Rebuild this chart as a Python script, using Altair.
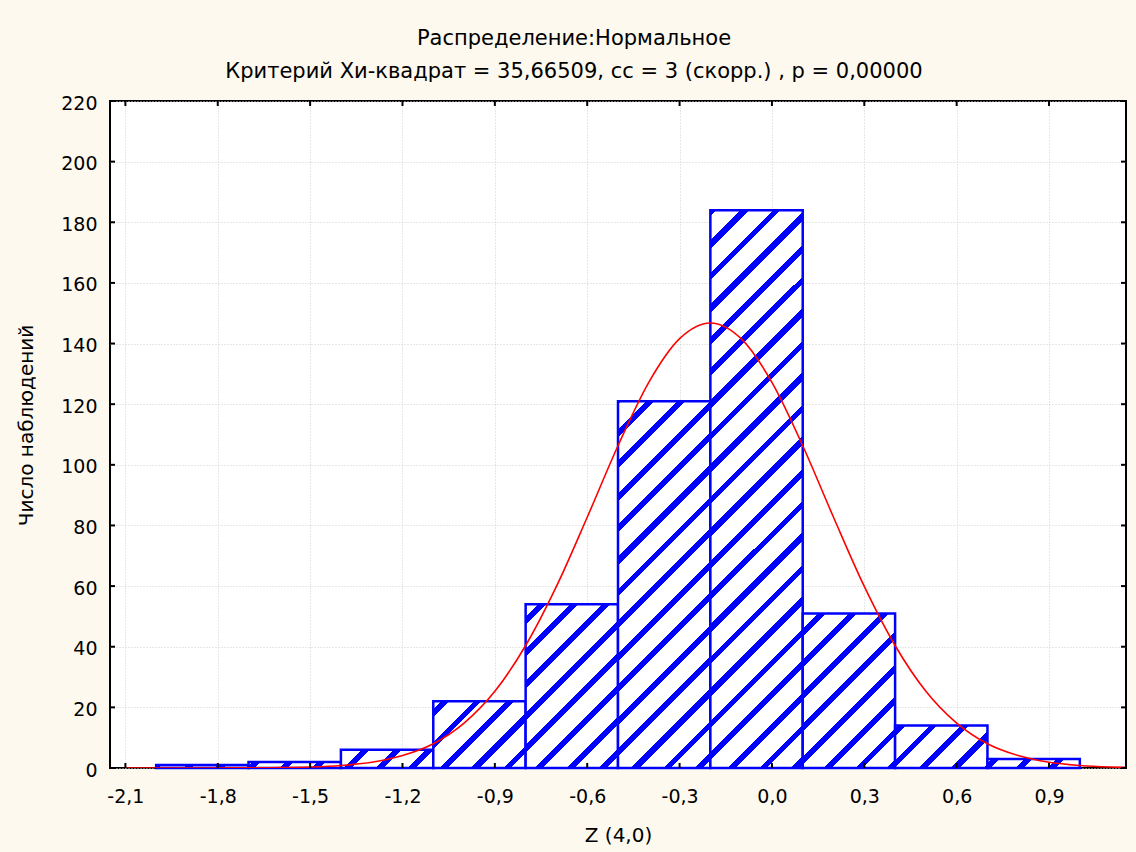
import math

import altair as alt
import pandas as pd

# Histogram of Z (4,0): bin edges and observed counts
bin_lo = [-2.0, -1.7, -1.4, -1.1, -0.8, -0.5, -0.2, 0.1, 0.4, 0.7]
bin_hi = [-1.7, -1.4, -1.1, -0.8, -0.5, -0.2, 0.1, 0.4, 0.7, 1.0]
counts = [1, 2, 6, 22, 54, 121, 184, 51, 14, 3]

# Fitted normal curve, expected number of observations per bin
curve_x = [-2.1, -2.0, -1.9, -1.8, -1.7, -1.6, -1.5, -1.4, -1.3, -1.2, -1.1,
           -1.0, -0.9, -0.8, -0.7, -0.6, -0.5, -0.4, -0.3, -0.2, -0.1, 0.0,
           0.1, 0.2, 0.3, 0.4, 0.5, 0.6, 0.7, 0.8, 0.9, 1.0, 1.1, 1.15]
curve_y = [0.0, 0.0, 0.0, 0.02, 0.05, 0.13, 0.34, 0.84, 1.9, 4.1, 8.0,
           14.8, 25.3, 40.4, 59.9, 82.7, 106.3, 127.2, 141.6, 146.8, 141.6, 127.2,
           106.3, 82.7, 59.9, 40.4, 25.3, 14.8, 8.0, 4.1, 1.9, 0.84, 0.34, 0.21]

x_ticks = [-2.1, -1.8, -1.5, -1.2, -0.9, -0.6, -0.3, 0.0, 0.3, 0.6, 0.9]
y_ticks = [0, 20, 40, 60, 80, 100, 120, 140, 160, 180, 200, 220]

title_lines = [
    "Распределение:Нормальное",
    "Критерий Хи-квадрат = 35,66509, сс = 3 (скорр.) , p = 0,00000",
]
x_title = "Z (4,0)"
y_title = "Число наблюдений"

# Layout and style
PLOT_W, PLOT_H = 1016, 667
X_DOMAIN = [-2.15, 1.15]
Y_DOMAIN = [0, 220]
FONT = "DejaVu Sans"
BLUE = "#0000ff"
RED = "#ff0000"
BG = "#fdf9ef"
GRID = "#cfcfcf"
HATCH_PERIOD = 32.0   # px between stripes, measured along x
HATCH_WIDTH = 8.0     # stripe thickness, measured along x
HATCH_PHASE = 4.0
TICK_LEN = 5


def hatch_fill(lo, hi, n):
    """Diagonal '/' hatching as a hard-stop linear gradient in the bar's box."""
    sx = PLOT_W / (X_DOMAIN[1] - X_DOMAIN[0])
    sy = PLOT_H / (Y_DOMAIN[1] - Y_DOMAIN[0])
    bw = (hi - lo) * sx
    bh = n * sy
    s0 = (lo - X_DOMAIN[0]) * sx + (PLOT_H - bh)
    span = bw + bh
    k = span / (bw * bw + bh * bh)
    stops = [{"offset": 0.0, "color": "white"}]
    j = math.floor((s0 - HATCH_PHASE - HATCH_WIDTH) / HATCH_PERIOD)
    while True:
        a = HATCH_PHASE + j * HATCH_PERIOD
        j += 1
        if a >= s0 + span:
            break
        b = a + HATCH_WIDTH
        ta = max(0.0, (a - s0) / span)
        tb = min(1.0, (b - s0) / span)
        if tb <= 0:
            continue
        ta, tb = round(ta, 5), round(tb, 5)
        stops += [
            {"offset": ta, "color": "white"},
            {"offset": ta, "color": BLUE},
            {"offset": tb, "color": BLUE},
            {"offset": tb, "color": "white"},
        ]
    stops.append({"offset": 1.0, "color": "white"})
    return {
        "gradient": "linear",
        "x1": 0, "y1": 0,
        "x2": round(k * bw, 6), "y2": round(k * bh, 6),
        "stops": stops,
    }


x_scale = alt.Scale(domain=X_DOMAIN, nice=False, zero=False)
y_scale = alt.Scale(domain=Y_DOMAIN, nice=False, zero=False)

x_axis = alt.Axis(
    values=x_ticks,
    labelExpr="(datum.value < -1e-9 ? '-' : '') + replace(format(abs(datum.value), '.1f'), '.', ',')",
    ticks=False, tickSize=0, domain=False,
    grid=True, gridColor=GRID, gridDash=[1, 2], gridWidth=1,
    labelFont=FONT, labelFontSize=19, labelColor="black",
    labelBaseline="alphabetic", labelPadding=34,
    title=x_title, titleFont=FONT, titleFontSize=20, titleFontWeight="normal",
    titleColor="black", titleBaseline="alphabetic", titleY=73,
)
y_axis = alt.Axis(
    values=y_ticks, format="d",
    ticks=False, tickSize=0, domain=False,
    grid=True, gridColor=GRID, gridDash=[1, 2], gridWidth=1,
    labelFont=FONT, labelFontSize=19, labelColor="black",
    labelBaseline="middle", labelOffset=2, labelPadding=13,
    title=y_title, titleFont=FONT, titleFontSize=20, titleFontWeight="normal",
    titleColor="black", titleBaseline="alphabetic", titleX=-78, titleY=324,
    titleAngle=270,
)


def X(field):
    return alt.X(field, type="quantitative", scale=x_scale, axis=x_axis)


def Y(field):
    return alt.Y(field, type="quantitative", scale=y_scale, axis=y_axis)


bars = pd.DataFrame({"lo": bin_lo, "hi": bin_hi, "n": counts})
layers = []
for i in range(len(counts)):
    layers.append(
        alt.Chart(bars.iloc[[i]])
        .mark_rect(fill=hatch_fill(bin_lo[i], bin_hi[i], counts[i]),
                   stroke=BLUE, strokeWidth=2.5)
        .encode(x=X("lo"), x2="hi", y=Y("n"), y2=alt.datum(0))
    )

curve = pd.DataFrame({"cx": curve_x, "cy": curve_y})
layers.append(
    alt.Chart(curve)
    .mark_line(color=RED, strokeWidth=1.6, interpolate="monotone", clip=True)
    .encode(x=X("cx"), y=Y("cy"))
)

# inward tick marks on all four sides of the frame
xt = pd.DataFrame({"tx": x_ticks})
yt = pd.DataFrame({"ty": y_ticks})
tick_style = dict(color="black", strokeWidth=2)
layers += [
    alt.Chart(xt).mark_rule(**tick_style).encode(
        x=X("tx"), y=alt.value(PLOT_H), y2=alt.value(PLOT_H - TICK_LEN)),
    alt.Chart(xt).mark_rule(**tick_style).encode(
        x=X("tx"), y=alt.value(0), y2=alt.value(TICK_LEN)),
    alt.Chart(yt).mark_rule(**tick_style).encode(
        y=Y("ty"), x=alt.value(0), x2=alt.value(TICK_LEN)),
    alt.Chart(yt).mark_rule(**tick_style).encode(
        y=Y("ty"), x=alt.value(PLOT_W), x2=alt.value(PLOT_W - TICK_LEN)),
]

chart = (
    alt.layer(*layers)
    .properties(
        width=PLOT_W,
        height=PLOT_H,
        title=alt.TitleParams(
            text=title_lines, font=FONT, fontSize=21, fontWeight="normal",
            color="black", anchor="middle", baseline="alphabetic",
            lineHeight=33, offset=-5, dx=-44,
        ),
        autosize=alt.AutoSizeParams(type="none"),
        padding={"left": 110, "top": 101, "right": 10, "bottom": 84},
        background=BG,
    )
    .configure_view(fill="white", stroke="black", strokeWidth=2)
)

chart.save("out.html", embed_options={"renderer": "svg", "actions": False})
